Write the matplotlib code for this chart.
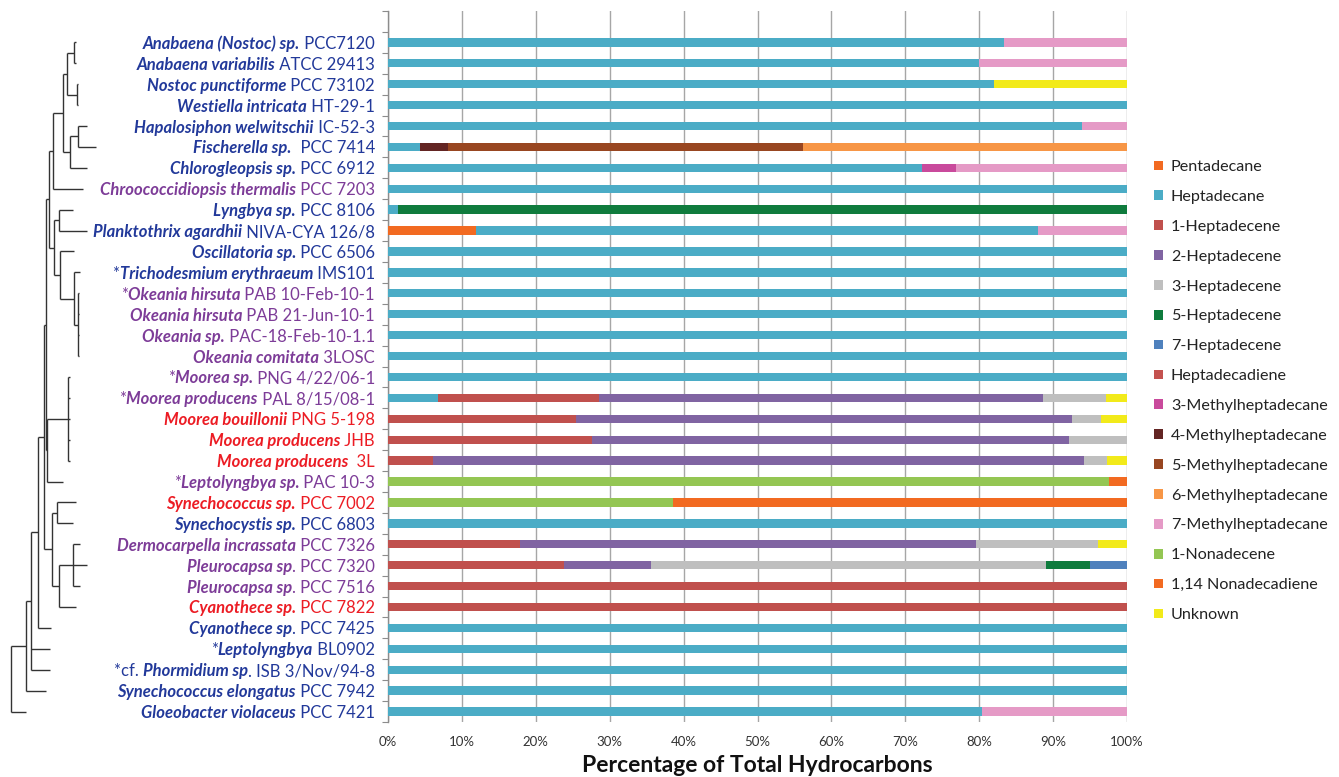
import matplotlib
matplotlib.use('Agg')
import matplotlib.pyplot as plt
import matplotlib.transforms as mtransforms
from matplotlib.patches import Patch

plt.rcParams['font.family'] = ['Lato', 'DejaVu Sans']

W, H = 1339, 777

# ---------------- data ----------------
prefixes = ["", "", "", "", "", "", "", "", "", "", "",
            "*", "*", "", "", "", "*", "*", "", "", "", "*",
            "", "", "", "", "", "", "", "*", "*cf. ", "", ""]
names = ["Anabaena (Nostoc) sp.", "Anabaena variabilis", "Nostoc punctiforme",
         "Westiella intricata", "Hapalosiphon welwitschii", "Fischerella sp.",
         "Chlorogleopsis sp.", "Chroococcidiopsis thermalis", "Lyngbya sp.",
         "Planktothrix agardhii", "Oscillatoria sp.", "Trichodesmium erythraeum",
         "Okeania hirsuta", "Okeania hirsuta", "Okeania sp.", "Okeania comitata",
         "Moorea sp.", "Moorea producens", "Moorea bouillonii", "Moorea producens",
         "Moorea producens", "Leptolyngbya sp.", "Synechococcus sp.",
         "Synechocystis sp.", "Dermocarpella incrassata", "Pleurocapsa sp",
         "Pleurocapsa sp", "Cyanothece sp.", "Cyanothece sp", "Leptolyngbya",
         "Phormidium sp", "Synechococcus elongatus", "Gloeobacter violaceus"]
strains = [" PCC7120", " ATCC 29413", " PCC 73102", " HT-29-1", " IC-52-3",
           "  PCC 7414", " PCC 6912", " PCC 7203", " PCC 8106", " NIVA-CYA 126/8",
           " PCC 6506", " IMS101", " PAB 10-Feb-10-1", " PAB 21-Jun-10-1",
           " PAC-18-Feb-10-1.1", " 3LOSC", " PNG 4/22/06-1", " PAL 8/15/08-1",
           " PNG 5-198", " JHB", "  3L", " PAC 10-3", " PCC 7002", " PCC 6803",
           " PCC 7326", ". PCC 7320", ". PCC 7516", " PCC 7822", ". PCC 7425",
           " BL0902", ". ISB 3/Nov/94-8", " PCC 7942", " PCC 7421"]
groups = ["b", "b", "b", "b", "b", "b", "b", "p", "b", "b", "b",
          "b", "p", "p", "p", "p", "p", "p", "r", "r", "r", "p",
          "r", "b", "p", "p", "p", "r", "b", "b", "b", "b", "b"]

series_names = ["Pentadecane", "Heptadecane", "1-Heptadecene", "2-Heptadecene",
                "3-Heptadecene", "5-Heptadecene", "7-Heptadecene", "Heptadecadiene",
                "3-Methylheptadecane", "4-Methylheptadecane", "5-Methylheptadecane",
                "6-Methylheptadecane", "7-Methylheptadecane", "1-Nonadecene",
                "1,14 Nonadecadiene", "Unknown"]

pentadecane = [0, 0, 0, 0, 0, 0, 0, 0, 0, 11.9, 0,
               0, 0, 0, 0, 0, 0, 0, 0, 0, 0, 0,
               0, 0, 0, 0, 0, 0, 0, 0, 0, 0, 0]
heptadecane = [83.4, 80.0, 82.0, 100, 93.9, 4.3, 72.3, 100, 1.3, 76.0, 100,
               100, 100, 100, 100, 100, 100, 6.7, 0, 0, 0, 0,
               0, 100, 0, 0, 0, 0, 100, 100, 100, 100, 80.4]
heptadecene_1 = [0, 0, 0, 0, 0, 0, 0, 0, 0, 0, 0,
                 0, 0, 0, 0, 0, 0, 21.9, 25.5, 27.6, 6.1, 0,
                 0, 0, 17.9, 23.8, 100, 100, 0, 0, 0, 0, 0]
heptadecene_2 = [0, 0, 0, 0, 0, 0, 0, 0, 0, 0, 0,
                 0, 0, 0, 0, 0, 0, 60.0, 67.1, 64.6, 88.1, 0,
                 0, 0, 61.6, 11.8, 0, 0, 0, 0, 0, 0, 0]
heptadecene_3 = [0, 0, 0, 0, 0, 0, 0, 0, 0, 0, 0,
                 0, 0, 0, 0, 0, 0, 8.6, 3.9, 7.8, 3.1, 0,
                 0, 0, 16.6, 53.5, 0, 0, 0, 0, 0, 0, 0]
heptadecene_5 = [0, 0, 0, 0, 0, 0, 0, 0, 98.7, 0, 0,
                 0, 0, 0, 0, 0, 0, 0, 0, 0, 0, 0,
                 0, 0, 0, 5.9, 0, 0, 0, 0, 0, 0, 0]
heptadecene_7 = [0, 0, 0, 0, 0, 0, 0, 0, 0, 0, 0,
                 0, 0, 0, 0, 0, 0, 0, 0, 0, 0, 0,
                 0, 0, 0, 5.0, 0, 0, 0, 0, 0, 0, 0]
heptadecadiene = [0, 0, 0, 0, 0, 0, 0, 0, 0, 0, 0,
                  0, 0, 0, 0, 0, 0, 0, 0, 0, 0, 0,
                  0, 0, 0, 0, 0, 0, 0, 0, 0, 0, 0]
methyl_3 = [0, 0, 0, 0, 0, 0, 4.5, 0, 0, 0, 0,
            0, 0, 0, 0, 0, 0, 0, 0, 0, 0, 0,
            0, 0, 0, 0, 0, 0, 0, 0, 0, 0, 0]
methyl_4 = [0, 0, 0, 0, 0, 3.8, 0, 0, 0, 0, 0,
            0, 0, 0, 0, 0, 0, 0, 0, 0, 0, 0,
            0, 0, 0, 0, 0, 0, 0, 0, 0, 0, 0]
methyl_5 = [0, 0, 0, 0, 0, 48.0, 0, 0, 0, 0, 0,
            0, 0, 0, 0, 0, 0, 0, 0, 0, 0, 0,
            0, 0, 0, 0, 0, 0, 0, 0, 0, 0, 0]
methyl_6 = [0, 0, 0, 0, 0, 43.9, 0, 0, 0, 0, 0,
            0, 0, 0, 0, 0, 0, 0, 0, 0, 0, 0,
            0, 0, 0, 0, 0, 0, 0, 0, 0, 0, 0]
methyl_7 = [16.6, 20.0, 0, 0, 6.1, 0, 23.2, 0, 0, 12.1, 0,
            0, 0, 0, 0, 0, 0, 0, 0, 0, 0, 0,
            0, 0, 0, 0, 0, 0, 0, 0, 0, 0, 19.6]
nonadecene = [0, 0, 0, 0, 0, 0, 0, 0, 0, 0, 0,
              0, 0, 0, 0, 0, 0, 0, 0, 0, 0, 97.6,
              38.6, 0, 0, 0, 0, 0, 0, 0, 0, 0, 0]
nonadecadiene = [0, 0, 0, 0, 0, 0, 0, 0, 0, 0, 0,
                 0, 0, 0, 0, 0, 0, 0, 0, 0, 0, 2.4,
                 61.4, 0, 0, 0, 0, 0, 0, 0, 0, 0, 0]
unknown = [0, 0, 18.0, 0, 0, 0, 0, 0, 0, 0, 0,
           0, 0, 0, 0, 0, 0, 2.8, 3.5, 0, 2.7, 0,
           0, 0, 3.9, 0, 0, 0, 0, 0, 0, 0, 0]

series = [pentadecane, heptadecane, heptadecene_1, heptadecene_2, heptadecene_3,
          heptadecene_5, heptadecene_7, heptadecadiene, methyl_3, methyl_4,
          methyl_5, methyl_6, methyl_7, nonadecene, nonadecadiene, unknown]
series_colors = ["#F26A21", "#4BACC6", "#C0504D", "#8064A2", "#BFBFBF",
                 "#0F7B3D", "#4F81BD", "#C4524F", "#C94A9C", "#632523",
                 "#984621", "#F79646", "#E59AC6", "#94C653", "#F26A21",
                 "#F2EA1A"]

xticks = [0, 10, 20, 30, 40, 50, 60, 70, 80, 90, 100]
xtick_labels = [f"{v}%" for v in xticks]

# dendrogram: leaf = (row, tip_x); node = (x, [children]); x in pixel-like units
def L(i, tip):
    return ("L", i, tip)

def N(x, kids):
    return ("N", x, kids)

A3 = N(66.7, [N(73.5, [L(0, 76), L(1, 76)]), N(77, [L(2, 78), L(3, 78)])])
A5 = N(70, [N(77.7, [L(4, 86.7), L(5, 96)]), L(6, 86.7)])
A7 = N(53.3, [N(62.7, [A3, A5]), L(7, 82.7)])
B1 = N(59.3, [L(8, 72.7), L(9, 86.7)])
O1 = N(77.7, [L(12, 79), L(13, 79), L(14, 79), L(15, 79)])
B3 = N(60, [L(10, 74.3), N(74, [L(11, 80), O1])])
C1 = N(49, [A7, N(54.3, [B1, B3])])
M1 = N(68.3, [L(16, 69.5), L(17, 69.5), L(18, 69.5), L(19, 69.5), L(20, 69.5)])
C2 = N(45.5, [C1, N(46.7, [M1, L(21, 63.3)])])
S1 = N(57.3, [L(22, 76), L(23, 72.7)])
P2 = N(59, [N(72.7, [L(24, 80), L(25, 86.7), L(26, 80)]), L(27, 76)])
C3 = N(43.5, [C2, N(52.3, [S1, P2])])
D1 = N(37.7, [C3, L(28, 50.7)])
D2 = N(31, [D1, L(29, 50), L(30, 50)])
D3 = N(26, [D2, L(31, 45.7)])
tree = N(11, [D3, L(32, 26)])

# ---------------- figure ----------------
fig = plt.figure(figsize=(W / 100, H / 100), dpi=100)
ax_l, ax_r, ax_t, ax_b = 388 / W, 1127 / W, 1 - 11 / H, 1 - 722 / H
ax = fig.add_axes([ax_l, ax_b, ax_r - ax_l, ax_t - ax_b])
n = len(names)
ys = list(range(n))
ylim = (n - 0.5, -1.5)

left = [0.0] * n
for vals, col in zip(series, series_colors):
    ax.barh(ys, vals, left=left, height=0.4, color=col, edgecolor='none', zorder=3)
    left = [a + b for a, b in zip(left, vals)]

ax.set_xlim(0, 100)
ax.set_ylim(*ylim)
ax.set_xticks(xticks)
ax.set_xticklabels(xtick_labels, fontsize=9.5, color='#333333')
ax.tick_params(axis='x', length=0, pad=10)
ax.set_yticks([y - 0.5 for y in range(-1, n + 1)])
ax.set_yticklabels([])
ax.tick_params(axis='y', length=4, width=0.8, color='#8C8C8C', direction='out')
ax.xaxis.grid(True, color='#A6A6A6', linewidth=1.0, zorder=0)
ax.set_axisbelow(True)
for s in ['top', 'right', 'bottom']:
    ax.spines[s].set_visible(False)
ax.spines['left'].set_color('#8C8C8C')
ax.spines['left'].set_linewidth(1.0)
ax.set_xlabel("Percentage of Total Hydrocarbons", fontsize=16.5, fontweight='bold',
              color='#111111')
ax.xaxis.set_label_coords(0.5, -(765 - 722) / 711)
ax.xaxis.label.set_va('center')

# labels
colors = {"b": "#22399A", "p": "#7D3C98", "r": "#EC1C24"}
trans = mtransforms.blended_transform_factory(fig.transFigure, ax.transData)
fs = 12
for i in range(n):
    c = colors[groups[i]]
    t1 = fig.text(375 / W, i, strains[i], transform=trans, ha='right',
                  va='center_baseline', fontsize=fs, color=c)
    t2 = fig.add_artist(matplotlib.text.Annotation(
        names[i], xy=(0, 0), xycoords=t1, ha='right', va='bottom', fontsize=fs,
        color=c, fontweight='bold', fontstyle='italic'))
    if prefixes[i]:
        fig.add_artist(matplotlib.text.Annotation(
            prefixes[i], xy=(0, 0), xycoords=t2, ha='right', va='bottom',
            fontsize=fs, color=c))

# dendrogram
axd = fig.add_axes([0, ax_b, 100 / W, ax_t - ax_b])
axd.set_xlim(0, 100)
axd.set_ylim(*ylim)
axd.axis('off')
lc = '#333333'

def draw(node):
    if node[0] == "L":
        return float(node[1]), node[2]
    x = node[1]
    pts = [draw(k) for k in node[2]]
    ys_k = [p[0] for p in pts]
    for yk, xk in pts:
        axd.plot([x, xk], [yk, yk], color=lc, lw=1.0, solid_capstyle='butt')
    axd.plot([x, x], [min(ys_k), max(ys_k)], color=lc, lw=1.0, solid_capstyle='butt')
    return (ys_k[0] + ys_k[-1]) / 2.0, x

y_root, x_root = draw(tree)

# legend
handles = [Patch(facecolor=c, edgecolor='none') for c in series_colors]
fig.legend(handles, series_names, loc='upper left',
           bbox_to_anchor=(1146 / W, 1 - 152 / H), frameon=False, fontsize=11.6,
           handlelength=0.55, handleheight=0.55, handletextpad=0.5, labelspacing=0.985,
           labelcolor='#222222', borderpad=0)

fig.savefig('out.png', dpi=100)
